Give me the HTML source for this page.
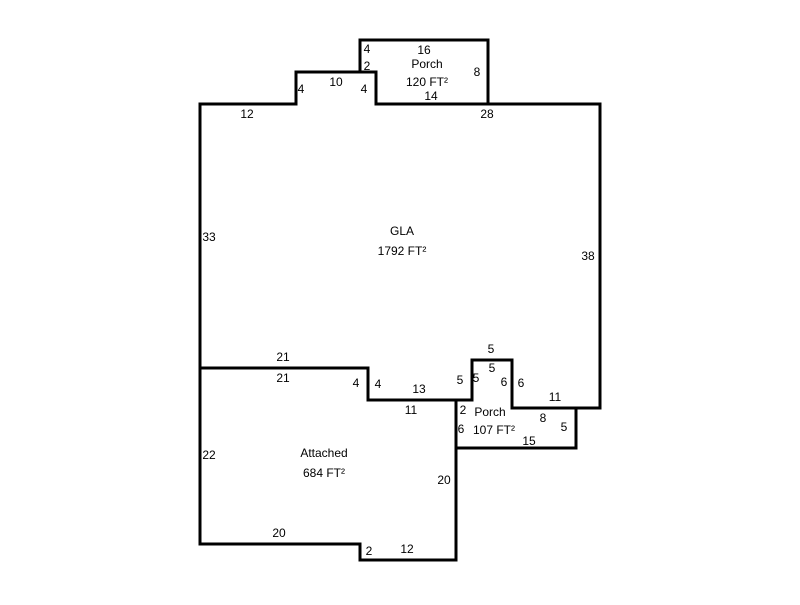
<!DOCTYPE html>
<html><head><style>
html,body{margin:0;padding:0;background:#fff;}
svg text{font-family:"Liberation Sans",Arial,sans-serif;font-size:12px;fill:#000;text-anchor:middle;dominant-baseline:central;}
</style></head><body>
<svg width="800" height="600" xmlns="http://www.w3.org/2000/svg">
<g fill="none" stroke="#000" stroke-width="3" stroke-linejoin="miter">
<path d="M200,104 H296 V72 H376 V104 H600 V408 H512 V360 H472 V400 H368 V368 H200 Z"/>
<path d="M376,72 H360 V40 H488 V104"/>
<path d="M200,368 V544 H360 V560 H456 V400"/>
<path d="M456,448 H576 V408"/>
</g>
<text x="367" y="49">4</text>
<text x="367" y="66">2</text>
<text x="424" y="50">16</text>
<text x="427" y="64">Porch</text>
<text x="427" y="82">120 FT²</text>
<text x="477" y="72">8</text>
<text x="431" y="96">14</text>
<text x="301" y="89">4</text>
<text x="336" y="82">10</text>
<text x="364" y="89">4</text>
<text x="247" y="114">12</text>
<text x="487" y="114">28</text>
<text x="209" y="237">33</text>
<text x="402" y="231">GLA</text>
<text x="402" y="251">1792 FT²</text>
<text x="588" y="256">38</text>
<text x="283" y="357">21</text>
<text x="283" y="378">21</text>
<text x="356" y="383">4</text>
<text x="378" y="384">4</text>
<text x="419" y="389">13</text>
<text x="411" y="410">11</text>
<text x="460" y="380">5</text>
<text x="476" y="378">5</text>
<text x="491" y="349">5</text>
<text x="492" y="368">5</text>
<text x="504" y="382">6</text>
<text x="521" y="383">6</text>
<text x="555" y="397">11</text>
<text x="463" y="410">2</text>
<text x="490" y="412">Porch</text>
<text x="494" y="430">107 FT²</text>
<text x="543" y="418">8</text>
<text x="564" y="427">5</text>
<text x="461" y="429">6</text>
<text x="529" y="441">15</text>
<text x="209" y="455">22</text>
<text x="324" y="453">Attached</text>
<text x="324" y="473">684 FT²</text>
<text x="444" y="480">20</text>
<text x="279" y="533">20</text>
<text x="369" y="551">2</text>
<text x="407" y="549">12</text>
</svg>
</body></html>
